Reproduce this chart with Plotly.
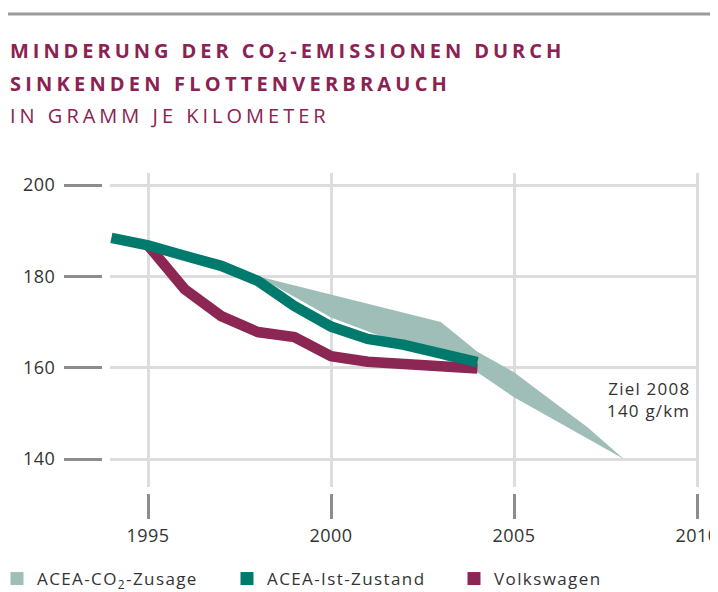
import plotly.graph_objects as go

# ---------------- data ----------------
years_ist = [1994, 1995, 1996, 1997, 1998, 1999, 2000, 2001, 2002, 2003, 2004]
acea_ist = [188.4, 186.8, 184.5, 182.3, 179.0, 173.5, 169.0, 166.3, 165.0, 163.3, 161.2]

years_vw = [1995, 1996, 1997, 1998, 1999, 2000, 2001, 2002, 2003, 2004]
volkswagen = [186.8, 177.2, 171.3, 167.8, 166.7, 162.5, 161.3, 160.9, 160.6, 159.8]

years_zusage = [1998, 1999, 2000, 2001, 2002, 2003, 2004, 2005, 2006, 2007, 2008]
zusage_upper = [180.0, 178.0, 176.0, 174.0, 172.0, 170.0, 163.5, 159.0, 153.0, 147.0, 140.0]
zusage_lower = [180.0, 175.5, 171.0, 168.0, 165.0, 162.0, 159.0, 153.5, 149.0, 144.5, 140.0]

x_ticks = [1995, 2000, 2005, 2010]
y_ticks = [140, 160, 180, 200]

series_names = ["ACEA-CO<sub>2</sub>-Zusage", "ACEA-Ist-Zustand", "Volkswagen"]
title_lines = ["MINDERUNG DER CO<sub>2</sub>-EMISSIONEN DURCH", "SINKENDEN FLOTTENVERBRAUCH"]
subtitle = "IN GRAMM JE KILOMETER"
target_note = ["Ziel 2008", "140 g/km"]
target_pos = (2009.85, 153.1)

# ---------------- style ----------------
# the page body adds an 8px margin, so the figure is drawn 8px in and
# screen positions (sx, sy) are converted to paper fractions below
OFF = 8
W, H = 718 - OFF, 592 - OFF
C_BAND = "#9ebeb7"
C_IST = "#007a6c"
C_VW = "#8c2652"
C_TITLE = "#8b2252"
C_GRID = "#dddde0"
C_TICK = "#8c8c8c"
C_TEXT = "#333333"
FONT = "Open Sans"


def fx(sx):
    return (sx - OFF) / W


def fy(sy):
    return 1 - (sy - OFF) / H


def sp(text, px):
    return f'<span style="letter-spacing:{px}px">{text}</span>'


fig = go.Figure()

# commitment corridor (band)
fig.add_trace(go.Scatter(x=years_zusage, y=zusage_lower, mode="lines",
                         line=dict(width=0, color=C_BAND), showlegend=False,
                         hoverinfo="skip"))
fig.add_trace(go.Scatter(x=years_zusage, y=zusage_upper, mode="lines",
                         line=dict(width=0, color=C_BAND), fill="tonexty",
                         fillcolor=C_BAND, showlegend=False, hoverinfo="skip"))
# Volkswagen
fig.add_trace(go.Scatter(x=years_vw, y=volkswagen, mode="lines",
                         line=dict(width=10.5, color=C_VW), showlegend=False))
# ACEA actual
fig.add_trace(go.Scatter(x=years_ist, y=acea_ist, mode="lines",
                         line=dict(width=10.5, color=C_IST), showlegend=False))

# legend entries (square swatches)
for name, col, lg in zip(series_names, [C_BAND, C_IST, C_VW], ["legend", "legend2", "legend3"]):
    fig.add_trace(go.Scatter(x=[None], y=[None], mode="markers", name=sp(name, 1.4),
                             marker=dict(symbol="square", size=13, color=col),
                             legend=lg, showlegend=True))

# geometry of the plotting area in screen pixels
px_left, px_right, px_top, px_bottom = 110, 699, 173, 487
px_per_year = (697 - 148) / 15.0
px_per_unit = (459 - 185) / 60.0
x_range = [1995 + (px_left - 148) / px_per_year, 1995 + (px_right - 148) / px_per_year]
y_range = [140 - (px_bottom - 459) / px_per_unit, 200 + (185 - px_top) / px_per_unit]

leg_common = dict(yanchor="middle", xanchor="left", orientation="h",
                  font=dict(size=17, color=C_TEXT, family=FONT),
                  bgcolor="rgba(0,0,0,0)")

fig.update_layout(
    width=W, height=H,
    margin=dict(l=0, r=0, t=0, b=0, pad=0, autoexpand=False),
    paper_bgcolor="white", plot_bgcolor="white",
    font=dict(family=FONT, color=C_TEXT, size=17),
    xaxis=dict(domain=[fx(px_left), fx(px_right)], range=x_range,
               anchor="free", position=fy(493),
               tickvals=x_ticks, ticktext=[sp(str(v), 0.5) for v in x_ticks],
               ticks="outside", ticklen=25, tickwidth=3, tickcolor=C_TICK,
               showgrid=True, gridcolor=C_GRID, gridwidth=3,
               showline=False, zeroline=False, ticklabelstandoff=1,
               ticklabeloverflow="allow",
               tickfont=dict(size=18, color=C_TEXT, family=FONT)),
    yaxis=dict(domain=[fy(px_bottom), fy(px_top)], range=y_range,
               anchor="free", position=fx(102),
               tickvals=y_ticks, ticktext=[sp(str(v), 0.5) for v in y_ticks],
               ticks="outside", ticklen=38, tickwidth=3, tickcolor=C_TICK,
               showgrid=True, gridcolor=C_GRID, gridwidth=3,
               showline=False, zeroline=False, ticklabelstandoff=5,
               ticklabeloverflow="allow",
               tickfont=dict(size=18, color=C_TEXT, family=FONT)),
    showlegend=True,
    legend=dict(x=fx(-3), y=fy(579), **leg_common),
    legend2=dict(x=fx(227), y=fy(579), **leg_common),
    legend3=dict(x=fx(454), y=fy(579), **leg_common),
    shapes=[dict(type="line", xref="paper", yref="paper", x0=fx(5), x1=1,
                 y0=fy(14), y1=fy(14), line=dict(color="#9a9a9a", width=3))],
    hovermode=False,
)

# titles
fig.add_annotation(xref="paper", yref="paper", x=fx(8), y=fy(51),
                   xanchor="left", yanchor="middle", showarrow=False,
                   text="<b>" + sp(title_lines[0], 3.95) + "</b>",
                   font=dict(size=20, color=C_TITLE, family=FONT))
fig.add_annotation(xref="paper", yref="paper", x=fx(8), y=fy(84),
                   xanchor="left", yanchor="middle", showarrow=False,
                   text="<b>" + sp(title_lines[1], 4.2) + "</b>",
                   font=dict(size=20, color=C_TITLE, family=FONT))
fig.add_annotation(xref="paper", yref="paper", x=fx(8), y=fy(116),
                   xanchor="left", yanchor="middle", showarrow=False,
                   text=sp(subtitle, 4.0),
                   font=dict(size=20, color=C_TITLE, family=FONT))

# target note
fig.add_annotation(x=target_pos[0], y=target_pos[1], xref="x", yref="y",
                   xanchor="right", yanchor="middle", align="right", showarrow=False,
                   text="<br>".join(sp(t, 1.2) for t in target_note),
                   font=dict(size=17, color=C_TEXT, family=FONT))

fig.write_html("out.html")
